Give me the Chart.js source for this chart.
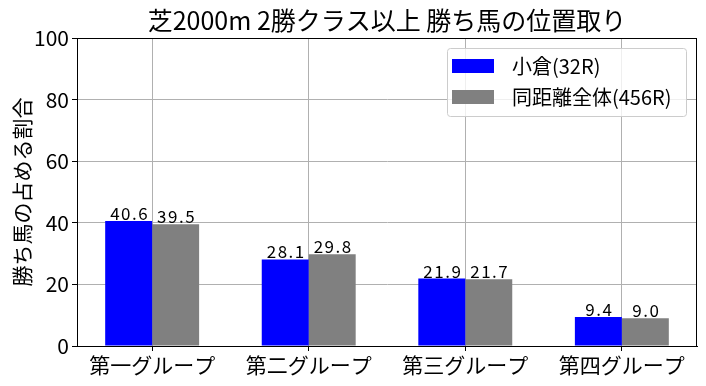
<!DOCTYPE html>
<html><head><meta charset="utf-8">
<script src="https://cdn.jsdelivr.net/npm/chart.js@4/dist/chart.umd.min.js"></script>
<style>html,body{margin:0;padding:0;background:#fff}#wrap{width:706px;height:386px}</style>
</head><body><div id="wrap"><canvas id="c" width="706" height="386"></canvas></div>
<script>
const categories = ["第一グループ", "第二グループ", "第三グループ", "第四グループ"];
const kokuraValues = [40.6, 28.1, 21.9, 9.4];
const overallValues = [39.5, 29.8, 21.7, 9.0];
const seriesLabels = ["小倉(32R)", "同距離全体(456R)"];
const yTicks = [0, 20, 40, 60, 80, 100];
const titleText = "芝2000m 2勝クラス以上 勝ち馬の位置取り";
const yTitle = "勝ち馬の占める割合";
const FONT = "'Noto Sans CJK JP', sans-serif";

const toPoints = arr => arr.map((v, i) => ({ x: i, y: v }));

const overlay = {
  id: 'overlay',
  afterDatasetsDraw(chart) {
    const ctx = chart.ctx;
    ctx.save();
    ctx.fillStyle = '#000';
    ctx.font = "17px " + FONT;
    if ('letterSpacing' in ctx) ctx.letterSpacing = '1.5px';
    ctx.textAlign = 'center';
    ctx.textBaseline = 'bottom';
    chart.data.datasets.forEach((ds, i) => {
      chart.getDatasetMeta(i).data.forEach((bar, j) => {
        ctx.fillText(ds.data[j].y.toFixed(1), bar.x + 1, bar.y + 1);
      });
    });
    ctx.restore();
  },
  afterDraw(chart) {
    const ctx = chart.ctx, a = chart.chartArea;
    ctx.save();
    ctx.strokeStyle = '#000'; ctx.lineWidth = 1;
    ctx.strokeRect(Math.round(a.left) + 0.5, Math.round(a.top) + 0.5, Math.round(a.right - a.left) - 1, Math.round(a.bottom - a.top));
    ctx.fillStyle = '#000';
    ctx.font = "25px " + FONT;
    ctx.textAlign = 'center'; ctx.textBaseline = 'alphabetic';
    ctx.fillText(titleText, (a.left + a.right) / 2, 30);
    ctx.save();
    ctx.translate(22, (a.top + a.bottom) / 2);
    ctx.rotate(-Math.PI / 2);
    ctx.font = "21px " + FONT;
    ctx.textBaseline = 'middle';
    ctx.fillText(yTitle, 0, 0);
    ctx.restore();
    const lx = 447, ly = 48, lw = 239, lh = 68;
    ctx.fillStyle = 'rgba(255,255,255,0.8)';
    ctx.strokeStyle = '#cccccc';
    ctx.beginPath();
    if (ctx.roundRect) ctx.roundRect(lx + 0.5, ly + 0.5, lw, lh, 3); else ctx.rect(lx + 0.5, ly + 0.5, lw, lh);
    ctx.fill(); ctx.stroke();
    ctx.font = "20px " + FONT;
    ctx.textAlign = 'left'; ctx.textBaseline = 'middle';
    chart.data.datasets.forEach((ds, i) => {
      const cy = 66 + i * 31;
      ctx.fillStyle = ds.backgroundColor;
      ctx.fillRect(452, cy - 7, 42, 14);
      ctx.fillStyle = '#000';
      ctx.fillText(ds.label, 512, cy);
    });
    ctx.restore();
  }
};

new Chart(document.getElementById('c'), {
  type: 'bar',
  data: {
    datasets: [
      { label: seriesLabels[0], data: toPoints(kokuraValues), backgroundColor: '#0000ff' },
      { label: seriesLabels[1], data: toPoints(overallValues), backgroundColor: '#808080' }
    ]
  },
  options: {
    responsive: false, animation: false,
    layout: { padding: { left: 0, right: 9, top: 38, bottom: 0 } },
    plugins: { legend: { display: false }, title: { display: false }, tooltip: { enabled: false } },
    datasets: { bar: { categoryPercentage: 0.6, barPercentage: 1.0 } },
    scales: {
      x: {
        type: 'linear',
        min: -0.48, max: categories.length - 1 + 0.48,
        offset: false,
        z: 1,
        afterBuildTicks(s) { s.ticks = categories.map((c, i) => ({ value: i })); },
        grid: { color: '#b0b0b0', lineWidth: 1, tickLength: 5, tickColor: '#000', offset: false },
        border: { color: '#000' },
        ticks: { color: '#000', font: { family: FONT, size: 21 }, padding: 1,
                 callback: v => categories[v] },
        afterFit(s) { s.height = 40; }
      },
      y: {
        min: 0, max: 100,
        afterBuildTicks(s) { s.ticks = yTicks.map(v => ({ value: v })); },
        grid: { color: '#b0b0b0', lineWidth: 1, tickLength: 5, tickColor: '#000' },
        border: { color: '#000' },
        ticks: { color: '#000', font: { family: FONT, size: 21 }, padding: 3 },
        afterFit(s) { s.width = 77; }
      }
    }
  },
  plugins: [overlay]
});
</script></body></html>
